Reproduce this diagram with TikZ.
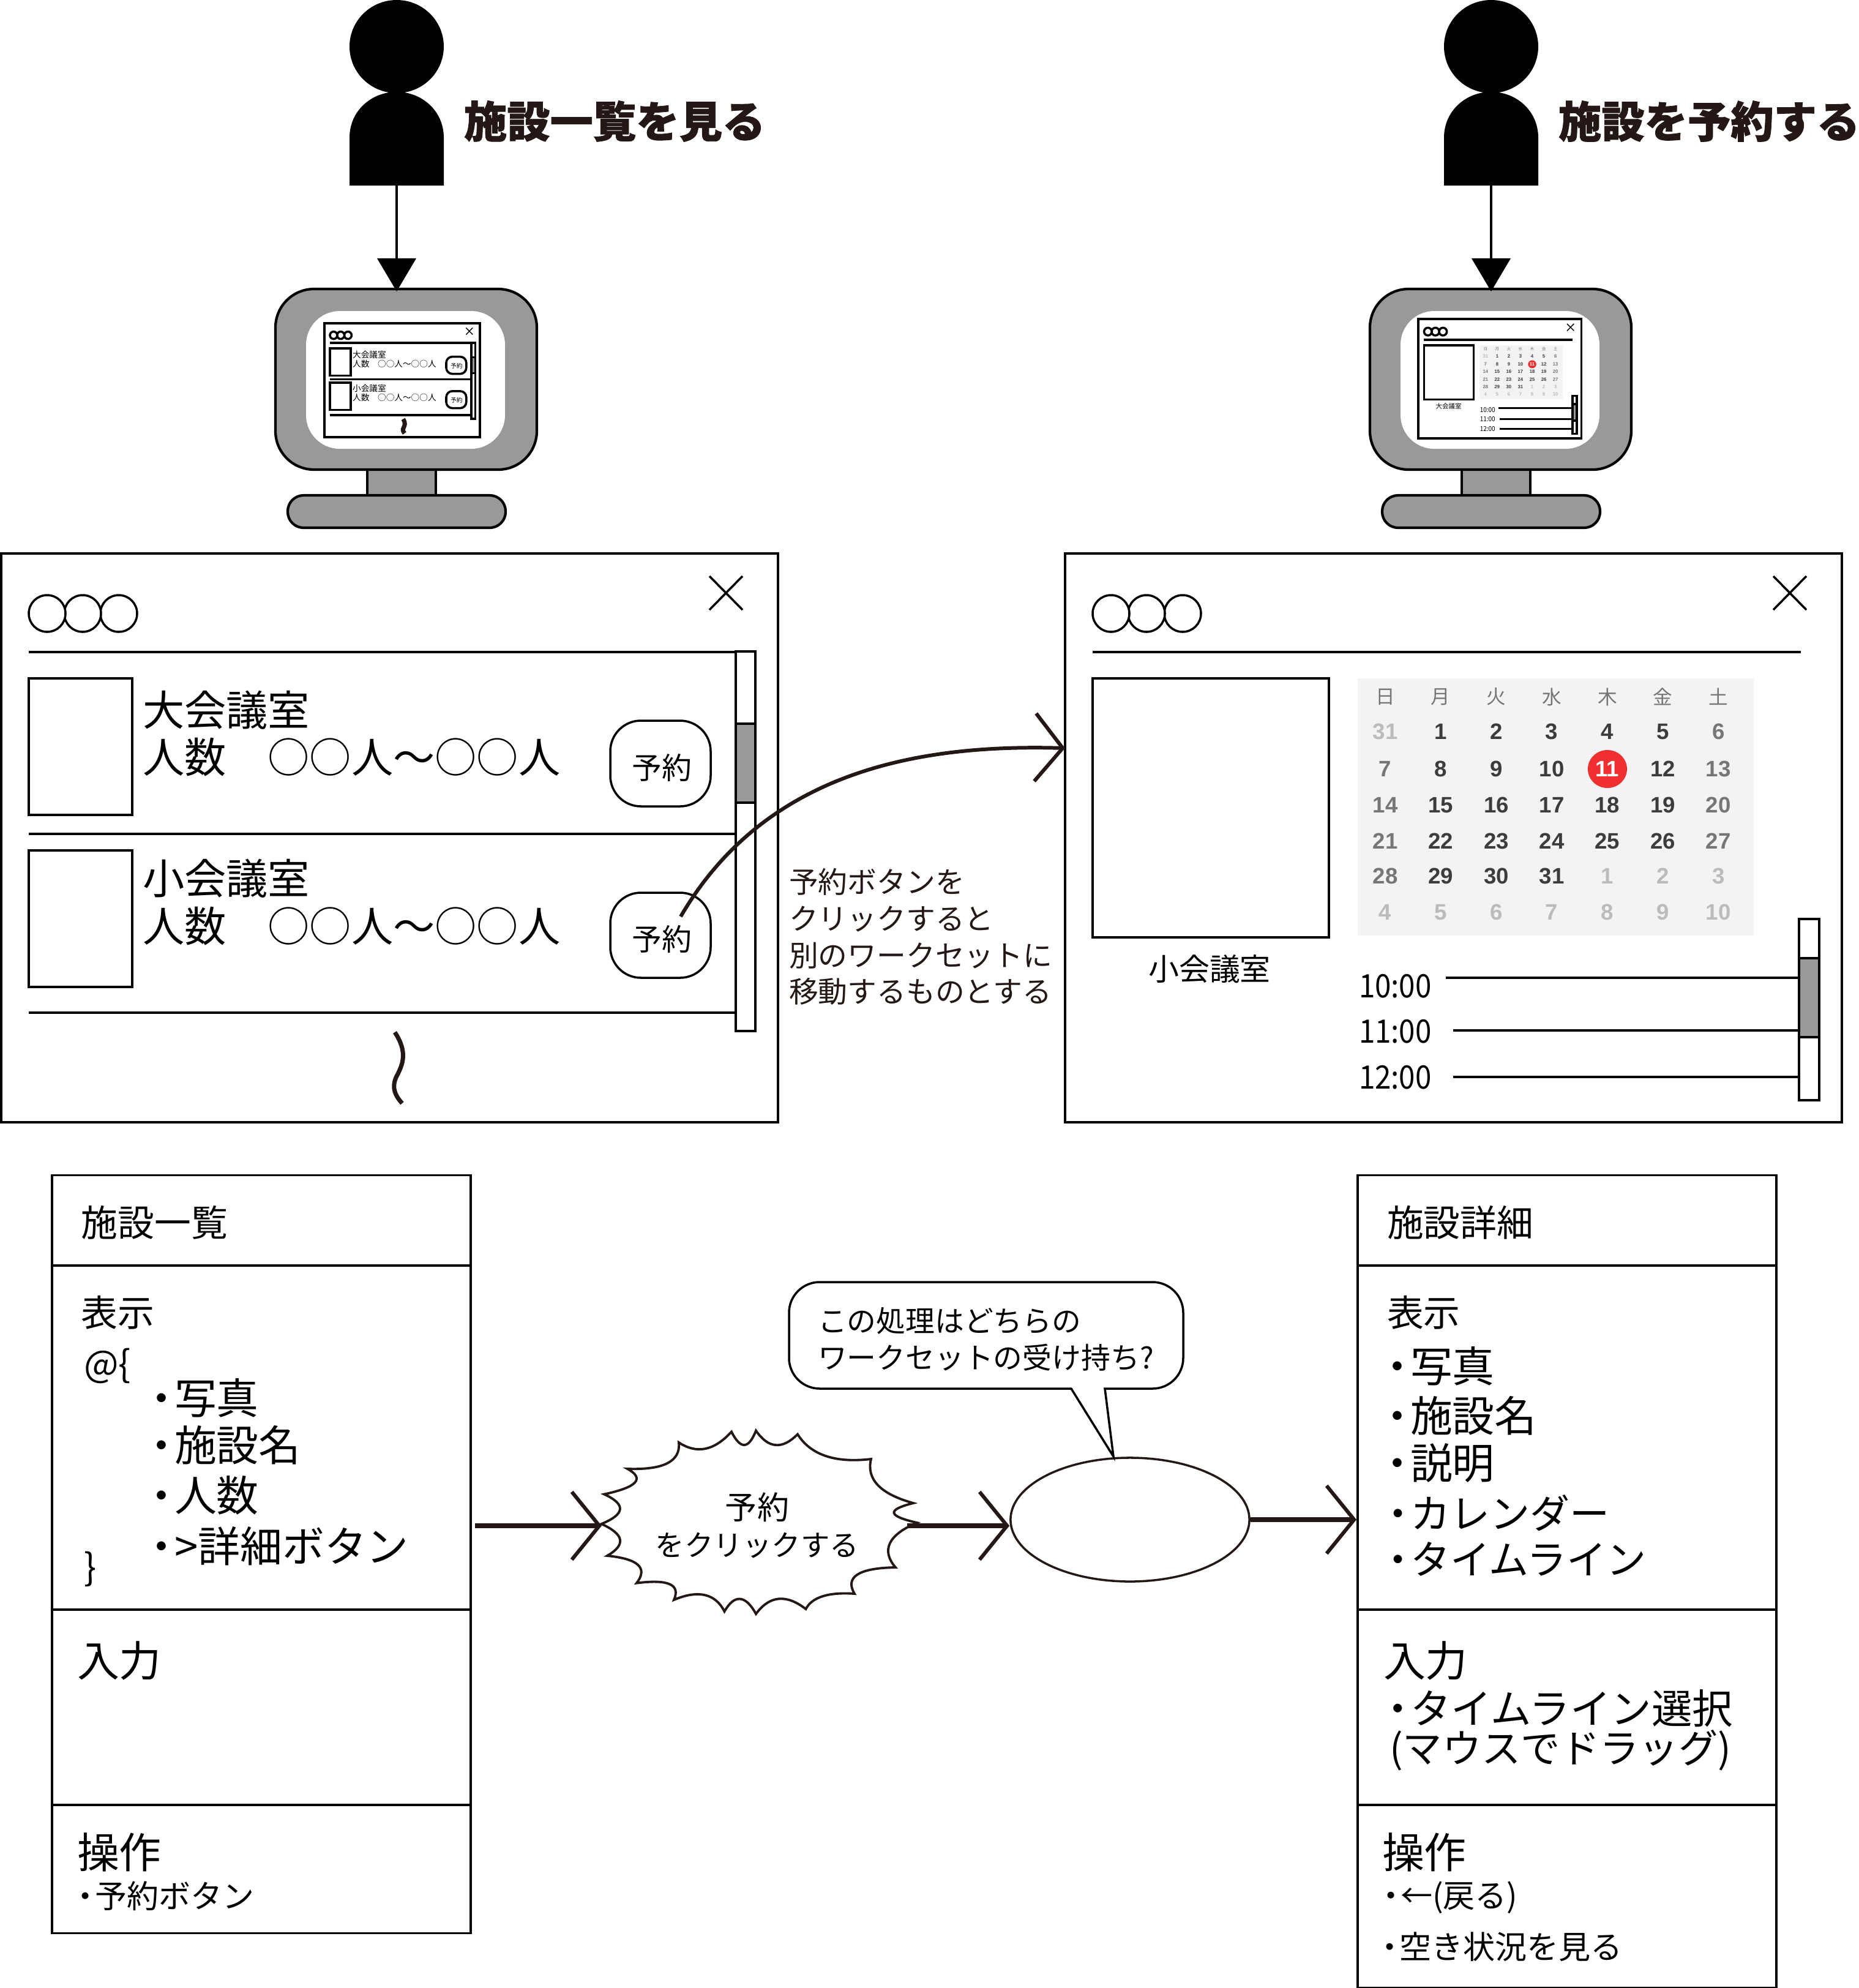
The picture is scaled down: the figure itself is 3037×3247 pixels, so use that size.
\documentclass[tikz,border=0pt]{standalone}
\usepackage{fontspec}
\setmainfont{Noto Sans CJK JP}
\newfontfamily\calfont{Liberation Sans}
\newfontfamily\headfont{Noto Sans CJK JP}[BoldFeatures={FakeBold=1.2}]
\usetikzlibrary{arrows.meta,shapes.geometric}
\definecolor{inkdark}{HTML}{231815}
\definecolor{screengray}{HTML}{999999}
\definecolor{calbg}{HTML}{F2F3F5}
\definecolor{cald}{HTML}{3C3C3C}
\definecolor{calm}{HTML}{767676}
\definecolor{call}{HTML}{BBBBBB}
\definecolor{calw}{HTML}{FFFFFF}
\definecolor{calred}{HTML}{F03030}
\newcommand{\listdot}{\makebox[0pt][r]{・\hspace{-.2em}}}
\newcommand{\windowhead}{
  \draw[winline,fill=white] (0,0) rectangle (1269,929);
  \foreach \cx in {192,133,75}
    \draw[winline,fill=white] (\cx,98) circle[radius=30];
  \draw[xmark] (1157,37) -- (1211,92) (1211,37) -- (1157,92);
}
\tikzset{
  winline/.style={draw=black,line width=1pt},
  xmark/.style={draw=black,line width=1pt},
  thinxmark/.style={xmark/.style={draw=black,line width=.4pt}},
  screenline/.style={draw=black,line width=1.2pt,fill=screengray},
  textbase/.style={inner sep=0pt,outer sep=0pt,anchor=west,align=left,transform shape},
  headtext/.style={textbase,text=inkdark,font=\fontsize{20pt}{24pt}\selectfont\headfont\bfseries},
  roomtext/.style={textbase,font=\fontsize{19.4pt}{22pt}\selectfont},
  btntext/.style={inner sep=0pt,transform shape,font=\fontsize{13.9pt}{17pt}\selectfont},
  capttext/.style={inner sep=0pt,transform shape,font=\fontsize{14.2pt}{17pt}\selectfont},
  timetext/.style={textbase,xscale=.9,font=\fontsize{15pt}{18pt}\selectfont},
  caltext/.style={inner sep=0pt,transform shape,font=\fontsize{10.4pt}{12pt}\selectfont\calfont\bfseries},
  calhead/.style={inner sep=0pt,transform shape,text=calm,font=\fontsize{9pt}{12pt}\selectfont},
  titletext/.style={textbase,font=\fontsize{17pt}{20pt}\selectfont},
  itemtext/.style={textbase,font=\fontsize{19.6pt}{22pt}\selectfont},
  kanatext/.style={textbase,font=\fontsize{18.5pt}{22pt}\selectfont},
  smalltext/.style={textbase,font=\fontsize{14.8pt}{18pt}\selectfont},
  notetext/.style={textbase,text=inkdark,font=\fontsize{13.6pt}{17pt}\selectfont},
  panelbox/.style={draw=black,line width=1pt,fill=white,inner sep=0pt,minimum width=6.84cm},
  flowline/.style={draw=inkdark,line width=2.2pt,-{Straight Barb[length=12.8pt,width=31.5pt,line width=1.7pt]}},
  pushline/.style={draw=inkdark,line width=1.7pt,-{Straight Barb[length=12.8pt,width=31.5pt,line width=1.7pt]}},
  downline/.style={draw=black,line width=1pt,-{Triangle[length=15.4pt,width=18pt]}},
  pics/listwin/.style={code={
    \windowhead
    \draw[winline] (45,161) -- (1200,161) (45,458) -- (1200,458) (45,750) -- (1200,750);
    \draw[winline,fill=white] (1200,160) rectangle (1232,780);
    \draw[winline,fill=screengray] (1200,278) rectangle (1232,407);
    \draw[winline] (45,204) rectangle (214,427);
    \draw[winline] (45,485) rectangle (214,708);
    \node[roomtext] (bigroom) at (231,256) {大会議室};
    \node[roomtext] (bigsize) at (231,333) {人数　○○人〜○○人};
    \node[roomtext] (smallroom) at (231,531) {小会議室};
    \node[roomtext] (smallsize) at (231,609) {人数　○○人〜○○人};
    \draw[winline,rounded corners=#1] (995,273) rectangle (1159,413);
    \draw[winline,rounded corners=#1] (995,554) rectangle (1159,693);
    \node[btntext] (bigbtn) at (1079,350) {予約};
    \node[btntext] (smallbtn) at (1079,630) {予約};
    \draw[draw=inkdark,line width=2pt] (643,782) .. controls (665,815) and (655,835) .. (648,850) .. controls (636,870) and (643,885) .. (655,898);
  }},
  pics/detailwin/.style={code={
    \windowhead
    \draw[winline] (45,161) -- (1202,161);
    \draw[winline] (45,204) rectangle (431,627);
    \node[capttext] (roomname) at (236,679) {#1};
    \fill[calbg] (478,204) rectangle (1125,624);
    \foreach \wk [count=\i] in {日,月,火,水,木,金,土}
      \node[calhead] (wk\i) at ({523+90.7*(\i-1)},234) {\wk};
    \fill[calred] (886,352) ellipse[x radius=32,y radius=31];
    \foreach \rowy/\days in {291/{l/31,d/1,d/2,d/3,d/4,d/5,m/6},352/{m/7,d/8,d/9,d/10,w/11,d/12,m/13},411/{m/14,d/15,d/16,d/17,d/18,d/19,m/20},470/{m/21,d/22,d/23,d/24,d/25,d/26,m/27},527/{m/28,d/29,d/30,d/31,l/1,l/2,l/3},586/{l/4,l/5,l/6,l/7,l/8,l/9,l/10}}
      \foreach \tone/\num [count=\i] in \days
        \node[caltext,text=cal\tone] (cal\rowy-\i) at ({523+90.7*(\i-1)},\rowy) {\num};
    \draw[winline] (622,693) -- (1199,693) (634,779) -- (1199,779) (634,855) -- (1199,855);
    \draw[winline,fill=white] (1199,597) rectangle (1232,893);
    \draw[winline,fill=screengray] (1199,661) rectangle (1232,790);
    \node[timetext] (ten) at (480,707) {10:00};
    \node[timetext] (eleven) at (480,781) {11:00};
    \node[timetext] (twelve) at (480,856) {12:00};
  }},
  pics/person/.style={code={
    \fill[black] (0,76) ellipse[x radius=77,y radius=76];
    \fill[black] (-77,303) -- (-77,225) .. controls (-77,180) and (-40,150) .. (0,150) .. controls (40,150) and (77,180) .. (77,225) -- (77,303) -- cycle;
    \coordinate (-foot) at (0,303);
  }},
  pics/monitor/.style={code={
    \draw[screenline] (-48,760) rectangle (64,815);
    \draw[screenline,rounded corners=.26cm] (-178,809) rectangle (178,862);
    \draw[screenline,rounded corners=.63cm] (-198,472) rectangle (229,767);
    \fill[white,rounded corners=.55cm] (-148,508) rectangle (177,733);
    \coordinate (-top) at (0,476);
  }},
}
\begin{document}
\begin{tikzpicture}[x=0.01cm,y=-0.01cm]
\useasboundingbox (0,0) rectangle (3037,3247);
% users
\pic (userl) at (648,0) {person};
\pic (userr) at (2436,0) {person};
\node[headtext] (viewtitle) at (758,198) {施設一覧を見る};
\node[headtext] (booktitle) at (2546,198) {施設を予約する};
% monitors
\pic (monl) at (648,0) {monitor};
\pic (monr) at (2436,0) {monitor};
\draw[downline] (userl-foot) -- (monl-top);
\draw[downline] (userr-foot) -- (monr-top);
\pic[scale=.2,thinxmark] at (530,528) {listwin={.1cm}};
\pic[scale=.21,thinxmark] at (2317,521) {detailwin={大会議室}};
% windows
\pic at (2,904) {listwin={.5cm}};
\pic at (1740,904) {detailwin={小会議室}};
\coordinate (btnstart) at (1112,1497);
\coordinate (detailin) at (1740,1222);
\draw[pushline] (btnstart) .. controls (1250,1260) and (1500,1215) .. (detailin);
\node[notetext] (movenote) at (1289,1530) {予約ボタンを\\クリックすると\\別のワークセットに\\移動するものとする};
% list panel
\node[panelbox,minimum height=12.37cm] (listbox) at (427,2538.5) {};
\draw[winline] (85,2067) -- (769,2067) (85,2629) -- (769,2629) (85,2948) -- (769,2948);
\node[titletext] (listtitle) at (133,1997) {施設一覧};
\node[titletext] (listshow) at (133,2144) {表示};
\node[titletext] (listopen) at (137,2231) {@\{};
\node[itemtext] (lista) at (285,2283) {\listdot 写真};
\node[itemtext] (listb) at (285,2360) {\listdot 施設名};
\node[itemtext] (listc) at (285,2442) {\listdot 人数};
\node[itemtext] (listd) at (285,2525) {\listdot >詳細ボタン};
\node[titletext] (listclose) at (137,2563) {\}};
\node[itemtext] (listin) at (126,2712) {入力};
\node[itemtext] (listop) at (126,3025) {操作};
\node[smalltext] (listbtn) at (155,3097) {\listdot 予約ボタン};
% detail panel
\node[panelbox,minimum height=13.26cm] (detailbox) at (2560,2583) {};
\draw[winline] (2218,2067) -- (2902,2067) (2218,2629) -- (2902,2629) (2218,2948) -- (2902,2948);
\node[titletext] (detailtitle) at (2266,1997) {施設詳細};
\node[titletext] (detailshow) at (2266,2144) {表示};
\node[itemtext] (detaila) at (2304,2231) {\listdot 写真};
\node[itemtext] (detailb) at (2304,2312) {\listdot 施設名};
\node[itemtext] (detailc) at (2304,2389) {\listdot 説明};
\node[kanatext] (detaild) at (2304,2471) {\listdot カレンダー};
\node[kanatext] (detaile) at (2304,2546) {\listdot タイムライン};
\node[itemtext] (detailin2) at (2260,2712) {入力};
\node[kanatext,font=\fontsize{18.9pt}{22pt}\selectfont] (detailf) at (2304,2790) {\listdot タイムライン選択};
\node[kanatext,font=\fontsize{18.3pt}{22pt}\selectfont] (detailg) at (2270,2859) {(マウスでドラッグ)};
\node[itemtext] (detailop) at (2258,3025) {操作};
\node[smalltext] (detailh) at (2288,3099) {\listdot ←(戻る)};
\node[smalltext] (detaili) at (2286,3180) {\listdot 空き状況を見る};
% flow
\draw[draw=inkdark,line width=1.1pt,fill=white] (982.5,2489) .. controls (1021.5,2473) and (1023,2457) .. (987,2440.5) .. controls (1041,2429) and (1054,2415) .. (1025,2399) .. controls (1084,2401) and (1112,2387) .. (1109,2356) .. controls (1138,2375) and (1166,2370) .. (1195,2338.5) .. controls (1210,2368) and (1223,2367) .. (1235,2336.6) .. controls (1255,2366) and (1278,2368) .. (1303,2342.5) .. controls (1324,2376) and (1364,2390) .. (1423,2383) .. controls (1415,2416) and (1438,2440) .. (1492,2455) .. controls (1448,2466) and (1450,2476) .. (1498,2487) .. controls (1451,2507) and (1439,2532) .. (1463,2560) .. controls (1402,2561) and (1380,2576) .. (1396,2603) .. controls (1353,2600) and (1326,2609) .. (1316.5,2628) .. controls (1284,2603) and (1257,2606) .. (1235,2636) .. controls (1218,2605) and (1200,2603) .. (1183.5,2632) .. controls (1169,2603) and (1141,2596) .. (1101,2613) .. controls (1112,2588) and (1092,2579) .. (1040,2585.6) .. controls (1059,2561) and (1043,2546) .. (992,2541) .. controls (1023,2523) and (1020,2506) .. (982.5,2489) -- cycle;
\coordinate (burstw) at (983,2492);
\coordinate (burste) at (1482,2492);
\node[textbase,anchor=center,align=center,font=\fontsize{13.5pt}{17pt}\selectfont] (bursttext) at (1237,2491) {{\fontsize{14.8pt}{17pt}\selectfont 予約}\\をクリックする};
\node[draw=inkdark,line width=1pt,ellipse,inner sep=0pt,minimum width=3.9cm,minimum height=2.02cm] (unknown) at (1846,2482) {};
\draw[flowline] ([xshift=.05cm]listbox.east |- burstw) -- (burstw);
\draw[flowline] (burste) -- (unknown.west |- burste);
\draw[flowline] (unknown.east) -- (detailbox.west |- unknown.east);
% balloon
\draw[draw=black,line width=1pt,fill=white] [rounded corners=.5cm] (1750,2268) -- (1289,2268) -- (1289,2094) -- (1933,2094) -- (1933,2268) [sharp corners] -- (1805,2268) -- (1819,2379) -- cycle;
\node[notetext,text=black] (asktext) at (1336,2187) {この処理はどちらの\\ワークセットの受け持ち?};
\end{tikzpicture}
\end{document}
